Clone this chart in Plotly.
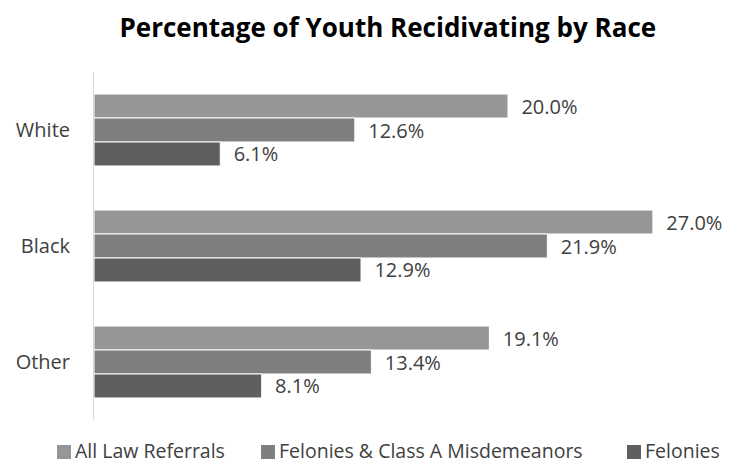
import plotly.graph_objects as go

races = ["White", "Black", "Other"]
all_law_referrals = [20.0, 27.0, 19.1]
felonies_class_a = [12.6, 21.9, 13.4]
felonies = [6.1, 12.9, 8.1]

series_names = ["All Law Referrals", "Felonies & Class A Misdemeanors", "Felonies"]
series_values = [all_law_referrals, felonies_class_a, felonies]
series_colors = ["#969696", "#7f7f7f", "#5f5f5f"]

W, H = 729, 465
M_L, M_R, M_T, M_B = 94, 14, 72, 45
FONT = "Open Sans"
TEXT = "#404040"

fig = go.Figure()
for name, vals, color in zip(series_names, series_values, series_colors):
    fig.add_trace(go.Bar(
        y=races, x=vals, name=name, orientation="h",
        marker=dict(color=color, line=dict(color="white", width=1)),
        texttemplate="  %{x:.1f}%", textposition="outside",
        constraintext="none",
        textfont=dict(family=FONT, size=20, color=TEXT),
        cliponaxis=False, showlegend=False,
    ))

# Legend drawn as a single row below the plot (square swatch + label)
plot_w, plot_h = W - M_L - M_R, H - M_T - M_B


def px_x(x):
    return (x - M_L) / plot_w


def px_y(y):
    return (H - M_B - y) / plot_h


legend_x = [57, 261, 627]
legend_y = 450
sw = 14
for name, color, x0 in zip(series_names, series_colors, legend_x):
    fig.add_shape(type="rect", xref="paper", yref="paper",
                  x0=px_x(x0), x1=px_x(x0 + sw),
                  y0=px_y(legend_y + 2 + sw / 2), y1=px_y(legend_y + 2 - sw / 2),
                  fillcolor=color, line=dict(width=0))
    fig.add_annotation(text=name, xref="paper", yref="paper",
                       x=px_x(x0 + sw + 3), y=px_y(legend_y),
                       xanchor="left", yanchor="middle", showarrow=False,
                       borderpad=0,
                       font=dict(family=FONT, size=19.5, color=TEXT))

fig.update_layout(
    width=W, height=H,
    margin=dict(l=M_L, r=M_R, t=M_T, b=M_B, autoexpand=False),
    paper_bgcolor="white", plot_bgcolor="white",
    barmode="group", bargap=0.38, bargroupgap=0,
    title=dict(text="<b>Percentage of Youth Recidivating by Race</b>",
               x=0.532, xanchor="center", y=0.94, yanchor="middle",
               font=dict(family=FONT, size=26, color="#000000")),
    xaxis=dict(range=[0, 30], visible=False, showgrid=False),
    yaxis=dict(autorange="reversed", showgrid=False, showline=True,
               linecolor="#d9d9d9", linewidth=1, ticks="", ticklabelstandoff=19,
               tickfont=dict(family=FONT, size=20, color=TEXT)),
    showlegend=False,
)

fig.write_html("out.html")
